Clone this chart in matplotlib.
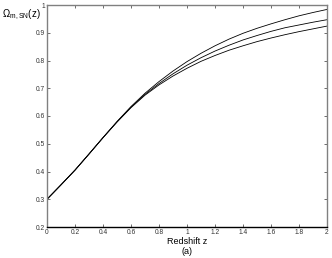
import numpy as np
import matplotlib
matplotlib.use('Agg')
import matplotlib.pyplot as plt

plt.rcParams['font.family'] = ['Liberation Sans', 'DejaVu Sans']
plt.rcParams['mathtext.fontset'] = 'custom'
plt.rcParams['mathtext.rm'] = 'Liberation Sans'
plt.rcParams['mathtext.it'] = 'Liberation Sans:italic'

# Values
z = [0.0, 0.1, 0.2, 0.3, 0.4, 0.5, 0.6, 0.7, 0.8, 0.9, 1.0,
     1.1, 1.2, 1.3, 1.4, 1.5, 1.6, 1.7, 1.8, 1.9, 2.0]
omega_top = [0.300, 0.352, 0.405, 0.463, 0.522, 0.580, 0.634, 0.682, 0.724, 0.762, 0.796,
             0.826, 0.853, 0.877, 0.898, 0.916, 0.932, 0.947, 0.961, 0.973, 0.984]
omega_mid = [0.300, 0.352, 0.405, 0.463, 0.522, 0.579, 0.632, 0.678, 0.717, 0.752, 0.783,
             0.810, 0.834, 0.855, 0.874, 0.890, 0.905, 0.918, 0.928, 0.938, 0.947]
omega_low = [0.300, 0.352, 0.405, 0.463, 0.522, 0.578, 0.630, 0.675, 0.712, 0.744, 0.772,
             0.797, 0.818, 0.837, 0.853, 0.868, 0.881, 0.893, 0.904, 0.914, 0.924]

xticks = [0, 0.2, 0.4, 0.6, 0.8, 1, 1.2, 1.4, 1.6, 1.8, 2]
xtick_labels = ['0', '0.2', '0.4', '0.6', '0.8', '1', '1.2', '1.4', '1.6', '1.8', '2']
yticks = [0.2, 0.3, 0.4, 0.5, 0.6, 0.7, 0.8, 0.9, 1]
ytick_labels = ['0.2', '0.3', '0.4', '0.5', '0.6', '0.7', '0.8', '0.9', '1']

fig = plt.figure(figsize=(3.32, 2.58), dpi=100)
ax = fig.add_axes([47 / 332, 31 / 258, 280 / 332, 222 / 258])

for series in (omega_top, omega_mid, omega_low):
    ax.plot(z, series, color='black', lw=0.6)

ax.set_xlim(0, 2)
ax.set_ylim(0.2, 1)
ax.set_xticks(xticks)
ax.set_xticklabels(xtick_labels)
ax.set_yticks(yticks)
ax.set_yticklabels(ytick_labels)
ax.tick_params(direction='in', length=2.5, width=0.6, labelsize=4.8, pad=1.5,
               top=True, right=True, colors='#555555', labelcolor='#333333')
for side in ('left', 'top', 'right'):
    ax.spines[side].set_color('#808080')
    ax.spines[side].set_linewidth(1.0)
ax.spines['bottom'].set_color('black')
ax.spines['bottom'].set_linewidth(1.0)

xc = 0.5 * (47 + 327) / 332
fig.text(xc, 1 - 241.5 / 258, 'Redshift z', fontsize=6.5, ha='center', va='center')
fig.text(xc, 1 - 251 / 258, '(a)', fontsize=6.5, ha='center', va='center')
fig.text(2 / 332, 1 - 15 / 258, r'$\Omega_{\mathrm{m,SN}}\mathrm{(z)}$', fontsize=7,
         ha='left', va='center')

fig.savefig('out.png', dpi=100)
